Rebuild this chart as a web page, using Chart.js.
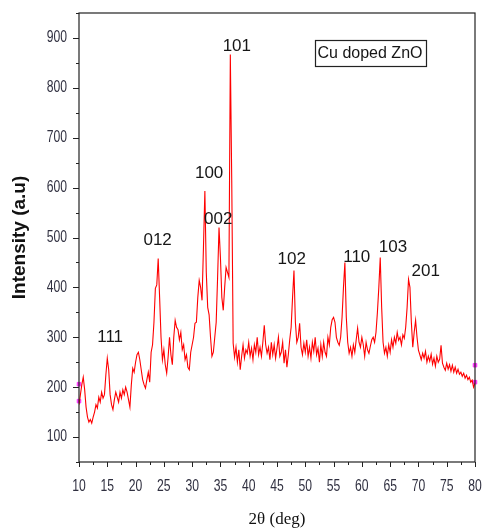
<!DOCTYPE html>
<html>
<head>
<meta charset="utf-8">
<script src="https://cdn.jsdelivr.net/npm/chart.js@4.4.0/dist/chart.umd.min.js"></script>
<style>
  html, body { margin: 0; padding: 0; background: #fff; }
</style>
</head>
<body>
<canvas id="xrd" width="482" height="532"></canvas>
<script>
const angleStart = 10;
const angleStep = 0.25;
const intensity = [
  165, 185, 205, 220, 195, 160, 140, 130,   // 10 - 11.75
  135, 128, 140, 150, 165, 158, 180, 170,   // 12 - 13.75
  190, 178, 185, 225, 258, 235, 185, 165,   // 14 - 15.75
  155, 175, 190, 180, 170, 190, 178, 195,   // 16 - 17.75
  185, 200, 190, 175, 160, 205, 238, 230,   // 18 - 19.75
  250, 265, 270, 255, 235, 215, 205, 198,   // 20 - 21.75
  215, 230, 210, 270, 285, 330, 398, 405,   // 22 - 23.75
  458, 380, 300, 255, 275, 245, 228, 260,   // 24 - 25.75
  300, 265, 245, 300, 334, 320, 315, 295,   // 26 - 27.75
  310, 275, 285, 255, 265, 240, 235, 270,   // 28 - 29.75
  285, 300, 328, 330, 380, 414, 400, 374,   // 30 - 31.75
  480, 593, 430, 360, 345, 300, 262, 270,   // 32 - 33.75
  300, 330, 420, 520, 460, 380, 354, 400,   // 34 - 35.75
  440, 430, 420, 867, 614, 288, 260, 280,   // 36 - 37.75
  250, 275, 235, 262, 285, 258, 275, 268,   // 38 - 39.75
  290, 262, 278, 255, 285, 270, 300, 265,   // 40 - 41.75
  280, 262, 290, 324, 285, 268, 280, 255,   // 42 - 43.75
  290, 265, 285, 258, 278, 300, 262, 270,   // 44 - 45.75
  290, 248, 275, 240, 265, 295, 320, 380,   // 46 - 47.75
  434, 330, 290, 300, 328, 280, 265, 288,   // 48 - 49.75
  270, 295, 262, 280, 258, 290, 272, 300,   // 50 - 51.75
  265, 278, 250, 285, 262, 290, 270, 262,   // 52 - 53.75
  300, 285, 320, 335, 340, 330, 300, 290,   // 54 - 55.75
  284, 300, 340, 400, 450, 340, 290, 268,   // 56 - 57.75
  280, 262, 285, 270, 295, 318, 290, 280,   // 58 - 59.75
  300, 285, 262, 290, 275, 268, 282, 295,   // 60 - 61.75
  300, 290, 310, 350, 400, 460, 360, 290,   // 62 - 63.75
  268, 280, 262, 285, 270, 295, 280, 300,   // 64 - 65.75
  288, 310, 294, 300, 285, 305, 298, 320,   // 66 - 67.75
  360, 416, 400, 330, 280, 310, 334, 300,   // 68 - 69.75
  274, 265, 255, 268, 258, 272, 250, 262,   // 70 - 71.75
  252, 266, 246, 258, 242, 262, 250, 256,   // 72 - 73.75
  284, 248, 240, 234, 248, 236, 245, 232,   // 74 - 75.75
  244, 230, 240, 228, 236, 226, 230, 222,   // 76 - 77.75
  228, 218, 224, 215, 220, 210, 214, 200,   // 78 - 79.75
  208                                       // 80
];
const twoTheta = intensity.map((_, i) => angleStart + i * angleStep);

// end markers (magenta)
const markerAngles = [10, 10, 80, 80];
const markerValues = [206, 172, 244, 210];

// reflection labels
const peakLabels = ['111', '012', '100', '002', '101', '102', '110', '103', '201'];
const peakAngles = [15.5, 23.9, 33.0, 34.6, 37.9, 47.6, 59.1, 65.5, 71.3];
const peakHeights = [300, 494, 628, 536, 884, 456, 460, 480, 432];

const sampleName = 'Cu doped ZnO';

const sans = '"Liberation Sans", Arial, sans-serif';

// narrow tick text: squeeze regular sans horizontally
function narrowText(ctx, txt, x, y, align) {
  ctx.save();
  ctx.translate(x, y);
  ctx.scale(0.76, 1);
  ctx.textAlign = align;
  ctx.fillText(txt, 0, 0);
  ctx.restore();
}

// frame, minor/major ticks, tick labels, reflection labels, sample box
const xrdDecor = {
  id: 'xrdDecor',
  afterDatasetsDraw(chart) {
    const { ctx, chartArea: a, scales: { x, y } } = chart;
    ctx.save();
    ctx.strokeStyle = '#222';
    ctx.lineWidth = 1.2;
    ctx.strokeRect(a.left, a.top, a.right - a.left, a.bottom - a.top);

    ctx.lineWidth = 1;
    ctx.beginPath();
    for (let v = x.min; v <= x.max + 0.01; v += 2.5) {
      const px = Math.round(x.getPixelForValue(v)) + 0.5;
      const len = v % 5 === 0 ? 5 : 3;
      ctx.moveTo(px, a.bottom);
      ctx.lineTo(px, a.bottom + len);
    }
    for (let v = y.min; v <= y.max + 0.01; v += 50) {
      const py = Math.round(y.getPixelForValue(v)) + 0.5;
      const len = v % 100 === 0 ? 6 : 3;
      ctx.moveTo(a.left - len, py);
      ctx.lineTo(a.left, py);
    }
    ctx.stroke();

    // tick labels
    ctx.fillStyle = '#303040';
    ctx.font = '16px ' + sans;
    ctx.textBaseline = 'middle';
    for (let v = 10; v <= 80; v += 5) {
      narrowText(ctx, String(v), x.getPixelForValue(v), a.bottom + 25, 'center');
    }
    for (let v = 100; v <= 900; v += 100) {
      narrowText(ctx, String(v), a.left - 12, y.getPixelForValue(v), 'right');
    }

    ctx.fillStyle = '#161616';
    ctx.font = '17px ' + sans;
    ctx.textAlign = 'center';
    peakLabels.forEach((t, i) => {
      ctx.fillText(t, x.getPixelForValue(peakAngles[i]), y.getPixelForValue(peakHeights[i]));
    });

    // sample name box
    ctx.font = '16px ' + sans;
    const w = ctx.measureText(sampleName).width;
    const cx = 370, cy = 53;
    ctx.lineWidth = 1.2;
    ctx.strokeStyle = '#222';
    ctx.strokeRect(Math.round(cx - w / 2 - 3) + 0.5, 40.5, Math.round(w + 6), 26);
    ctx.fillText(sampleName, cx, cy + 1);
    ctx.restore();
  }
};

new Chart(document.getElementById('xrd'), {
  type: 'line',
  data: {
    datasets: [{
      data: twoTheta.map((t, i) => ({ x: t, y: intensity[i] })),
      borderColor: '#ff0000',
      borderWidth: 1.1,
      pointRadius: 0,
      tension: 0
    }, {
      data: markerAngles.map((t, i) => ({ x: t, y: markerValues[i] })),
      showLine: false,
      pointStyle: 'rect',
      pointRadius: 2.5,
      backgroundColor: '#ff33ff',
      borderColor: '#ff33ff',
      clip: false
    }]
  },
  options: {
    responsive: false,
    animation: false,
    layout: { padding: { left: 0, right: 7, top: 13, bottom: 0 } },
    plugins: { legend: { display: false }, tooltip: { enabled: false } },
    scales: {
      x: {
        type: 'linear',
        min: 10,
        max: 80,
        grid: { display: false },
        border: { display: false },
        ticks: { display: false, stepSize: 5 },
        title: {
          display: true,
          text: '2θ (deg)',
          color: '#111',
          font: { family: '"Liberation Serif", "Times New Roman", serif', size: 17 },
          padding: { top: 0, bottom: 2 }
        },
        afterFit: s => { s.height = 70; s.paddingLeft = 0; s.paddingRight = 0; }
      },
      y: {
        min: 50,
        max: 950,
        grid: { display: false },
        border: { display: false },
        ticks: { display: false, stepSize: 50 },
        title: {
          display: true,
          text: 'Intensity (a.u)',
          color: '#111',
          font: { family: sans, size: 19, weight: 'bold' },
          padding: { top: 8, bottom: 0 }
        },
        afterFit: s => { s.width = 79; s.paddingTop = 0; s.paddingBottom = 0; }
      }
    }
  },
  plugins: [xrdDecor]
});
</script>
</body>
</html>
